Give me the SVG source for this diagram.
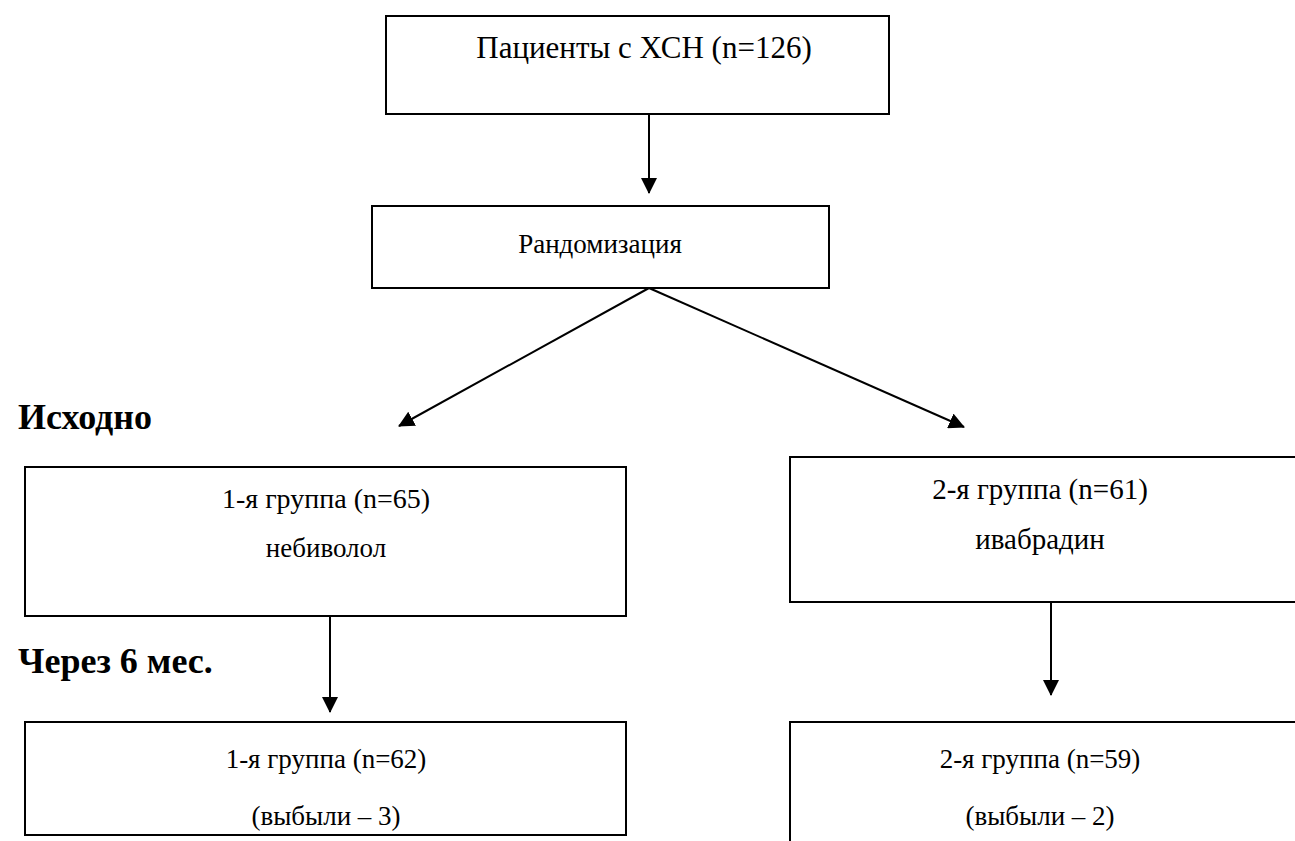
<svg xmlns="http://www.w3.org/2000/svg" width="1295" height="841" viewBox="0 0 1295 841">
<style>
.box{fill:#fff;stroke:#000;stroke-width:2}
.t{font-family:"Liberation Serif","Times New Roman",serif;font-size:26px;fill:#000;text-anchor:middle}
.lbl{font-family:"Liberation Serif","Times New Roman",serif;font-size:36px;font-weight:bold;fill:#000}
.c{stroke:#000;stroke-width:2;fill:none;marker-end:url(#ah)}
</style>
<defs>
<marker id="ah" markerWidth="16" markerHeight="16" viewBox="0 0 16 16" refX="15" refY="8" orient="auto" markerUnits="userSpaceOnUse">
<path d="M0,0 L16,8 L0,16 Z" fill="#000"/>
</marker>
</defs>
<rect width="1295" height="841" fill="#fff"/>
<g id="connectors">
<line class="c" x1="649" y1="114" x2="649" y2="193"/>
<line class="c" x1="649" y1="288" x2="399" y2="426"/>
<line class="c" x1="649" y1="288" x2="964" y2="427"/>
<line class="c" x1="330" y1="616" x2="330" y2="712"/>
<line class="c" x1="1051" y1="602" x2="1051" y2="695"/>
</g>
<g id="node-patients">
<rect class="box" x="386" y="16" width="503" height="98"/>
<text class="t" x="644" y="58" style="font-size:31px">Пациенты с ХСН (n=126)</text>
</g>
<g id="node-random">
<rect class="box" x="372" y="206" width="457" height="82"/>
<text class="t" x="600" y="253" style="font-size:27px">Рандомизация</text>
</g>
<g id="label-baseline">
<text class="lbl" x="18" y="429">Исходно</text>
</g>
<g id="node-g1">
<rect class="box" x="25" y="467" width="601" height="149"/>
<text class="t" x="326" y="508" style="font-size:28px">1-я группа (n=65)</text>
<text class="t" x="326" y="557" style="font-size:27px">небиволол</text>
</g>
<g id="node-g2">
<rect class="box" x="790" y="457" width="520" height="145"/>
<text class="t" x="1040" y="499" style="font-size:29px">2-я группа (n=61)</text>
<text class="t" x="1040" y="549" style="font-size:29px">ивабрадин</text>
</g>
<g id="label-6m">
<text class="lbl" x="18" y="673">Через 6 мес.</text>
</g>
<g id="node-g1-6m">
<rect class="box" x="25" y="722" width="601" height="113"/>
<text class="t" x="326" y="768" style="font-size:27px">1-я группа (n=62)</text>
<text class="t" x="326" y="825" style="font-size:27px">(выбыли – 3)</text>
</g>
<g id="node-g2-6m">
<rect class="box" x="790" y="722" width="520" height="140"/>
<text class="t" x="1040" y="768" style="font-size:27px">2-я группа (n=59)</text>
<text class="t" x="1040" y="825" style="font-size:27px">(выбыли – 2)</text>
</g>
</svg>
